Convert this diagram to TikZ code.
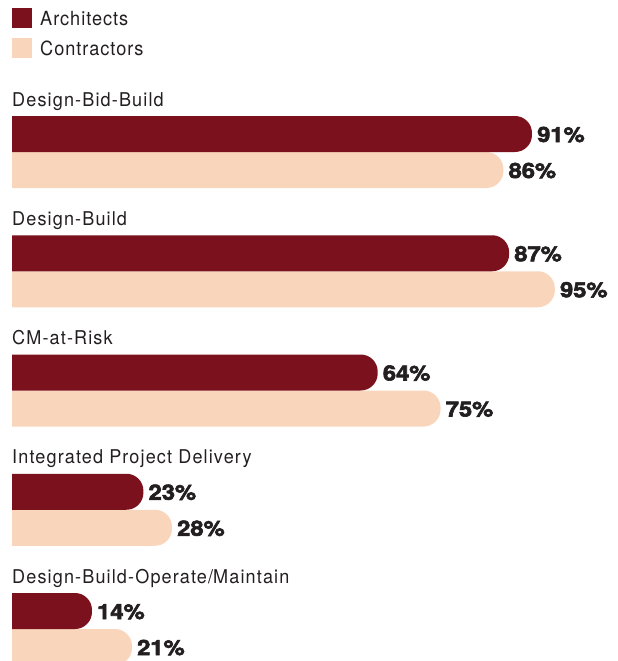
\documentclass[tikz,border=0pt]{standalone}
\usepackage{fontspec}
\setmainfont{TeX Gyre Heros}
\newfontfamily\lblfont[FakeStretch=0.95,LetterSpace=6]{TeX Gyre Heros}
\newfontfamily\legfont[FakeStretch=0.93,LetterSpace=5]{TeX Gyre Heros}
\newfontfamily\pctfont[FakeStretch=1.13,FakeBold=3]{TeX Gyre Heros Bold}
\definecolor{arch}{HTML}{7B111C}
\definecolor{cont}{HTML}{F9D5BC}
\definecolor{ink}{HTML}{231F20}
\tikzset{
  legtext/.style={anchor=base west,inner sep=0pt,text=ink,font=\legfont\fontsize{19.5}{19.5}\selectfont},
  cattext/.style={anchor=base west,inner sep=0pt,text=ink,font=\lblfont\fontsize{19}{19}\selectfont},
  pcttext/.style={anchor=base west,inner sep=0pt,text=ink,font=\pctfont\fontsize{21}{21}\selectfont},
}
\begin{document}
\begin{tikzpicture}[x=1pt,y=-1pt]
\useasboundingbox (0,0) rectangle (618,661);
% legend
\fill[arch] (12,8) rectangle (32,28);
\fill[cont] (12,38) rectangle (32,58);
\node[legtext] (legA) at (40,26) {Architects};
\node[legtext] (legC) at (40,56) {Contractors};
% groups
\foreach \i/\name/\a/\c in {0/Design-Bid-Build/91/86,1/Design-Build/87/95,2/CM-at-Risk/64/75,3/Integrated Project Delivery/23/28,4/Design-Build-Operate\slash Maintain/14/21}{
  \pgfmathsetmacro{\t}{116+119.25*\i}
  \pgfmathsetmacro{\m}{\t+36}
  \pgfmathsetmacro{\b}{\t+72}
  \pgfmathsetmacro{\xa}{12+5.714*\a}
  \pgfmathsetmacro{\xc}{12+5.714*\c}
  \node[cattext] (cat\i) at (12,\t-10) {\name};
  \fill[cont] (12,\m) [rounded corners=17] -- (\xc,\m) -- (\xc,\b) [sharp corners] -- (12,\b) -- cycle;
  \fill[arch] (12,\t) [rounded corners=17] -- (\xa,\t) -- (\xa,\m) [sharp corners] -- (12,\m) -- cycle;
  \node[pcttext] (pa\i) at (\xa+5,\t+26) {\a\%};
  \node[pcttext] (pc\i) at (\xc+5,\m+26) {\c\%};
}
\end{tikzpicture}
\end{document}
